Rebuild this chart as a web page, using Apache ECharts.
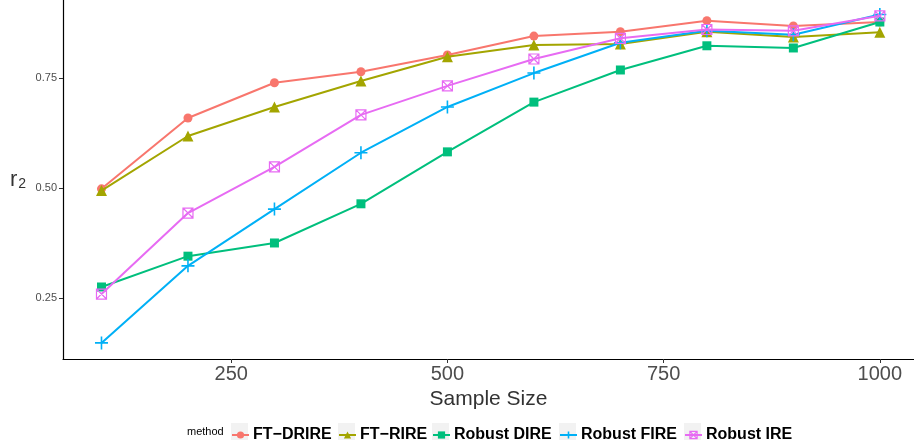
<!DOCTYPE html>
<html>
<head>
<meta charset="utf-8">
<script src="https://cdn.jsdelivr.net/npm/echarts@6/dist/echarts.min.js"></script>
<style>
html,body{margin:0;padding:0;background:#fff;}
#chart{width:914px;height:446px;}
</style>
</head>
<body>
<div id="chart"></div>
<script>
const sampleSizes = [100, 200, 300, 400, 500, 600, 700, 800, 900, 1000];
const ftDrire     = [0.498, 0.659, 0.739, 0.764, 0.802, 0.845, 0.855, 0.880, 0.868, 0.877];
const ftRire      = [0.494, 0.618, 0.684, 0.743, 0.798, 0.825, 0.827, 0.855, 0.843, 0.854];
const robustDire  = [0.275, 0.345, 0.375, 0.464, 0.582, 0.695, 0.768, 0.823, 0.818, 0.877];
const robustFire  = [0.148, 0.323, 0.452, 0.580, 0.684, 0.761, 0.830, 0.857, 0.848, 0.894];
const robustIre   = [0.259, 0.443, 0.548, 0.666, 0.732, 0.793, 0.840, 0.860, 0.857, 0.891];
const xTicks = [250, 500, 750, 1000];
const yTicks = [0.25, 0.50, 0.75];
const methodNames = ['FT\u2212DRIRE', 'FT\u2212RIRE', 'Robust DIRE', 'Robust FIRE', 'Robust IRE'];

const colors = ['#F8766D', '#A3A500', '#00BF7D', '#00B0F6', '#E76BF3'];
const allValues = [ftDrire, ftRire, robustDire, robustFire, robustIre];
const keyLeft = [231, 338, 432, 559, 684];

const plusPath = 'path://M5,0V10M0,5H10';
const boxXPath = 'path://M0,0H10V10H0ZM0,0L10,10M10,0L0,10';

const symbolDefs = [
  {symbol: 'circle', size: 9, item: {color: colors[0], borderWidth: 0}},
  {symbol: 'triangle', size: 11, item: {color: colors[1], borderWidth: 0}},
  {symbol: 'rect', size: 9, item: {color: colors[2], borderWidth: 0}},
  {symbol: plusPath, size: 13, item: {color: 'rgba(0,0,0,0)', borderColor: colors[3], borderWidth: 1.6}},
  {symbol: boxXPath, size: 10, item: {color: 'rgba(0,0,0,0)', borderColor: colors[4], borderWidth: 1.2}}
];

const series = methodNames.map((name, i) => ({
  name: name,
  type: 'line',
  data: sampleSizes.map((x, j) => [x, allValues[i][j]]),
  symbol: symbolDefs[i].symbol,
  symbolSize: symbolDefs[i].size,
  symbolKeepAspect: true,
  showAllSymbol: true,
  itemStyle: symbolDefs[i].item,
  lineStyle: {color: colors[i], width: 2},
  color: colors[i],
  emphasis: {disabled: true},
  animation: false,
  z: 2 + i
}));

const legends = methodNames.map((name, i) => ({
  data: [{name: name, itemStyle: symbolDefs[i].item}],
  left: keyLeft[i],
  top: 427,
  itemWidth: 17,
  itemHeight: 9,
  padding: 0,
  itemGap: 0,
  selectedMode: false,
  textStyle: {fontFamily: 'Liberation Sans', fontWeight: 'bold', fontSize: 16, color: '#000', padding: [0, 0, 0, -1]}
}));

const graphics = [
  {type: 'text', left: 187, top: 426, style: {text: 'method', font: '11px "Liberation Sans"', fill: '#000'}}
].concat(keyLeft.map(l => ({
  type: 'rect', left: l, top: 423, z: -1,
  shape: {width: 17, height: 17}, style: {fill: '#f2f2f2'}
})));

const chart = echarts.init(document.getElementById('chart'), null, {renderer: 'canvas'});
chart.setOption({
  animation: false,
  backgroundColor: '#fff',
  textStyle: {fontFamily: 'Liberation Sans'},
  grid: {left: 63, right: 0, top: 0, bottom: 87, containLabel: false},
  xAxis: {
    type: 'value', min: 55.5, max: 1039.5,
    name: 'Sample Size', nameLocation: 'middle', nameGap: 25,
    nameTextStyle: {fontSize: 21, color: '#333', fontFamily: 'Liberation Sans'},
    axisLine: {lineStyle: {color: '#000', width: 1.2}},
    axisTick: {show: true, length: 4, customValues: xTicks, lineStyle: {color: '#333'}},
    axisLabel: {customValues: xTicks, fontSize: 20, color: '#4d4d4d', margin: 5, fontFamily: 'Liberation Sans',
      formatter: v => String(v)},
    splitLine: {show: false}
  },
  yAxis: {
    type: 'value', min: 0.1114, max: 0.927,
    name: '{r|r}{s|2}', nameLocation: 'middle', nameGap: 37, nameRotate: 0,
    nameTextStyle: {
      color: '#333',
      rich: {
        r: {fontSize: 22, fontFamily: 'Liberation Sans', color: '#333'},
        s: {fontSize: 14, fontFamily: 'Liberation Sans', color: '#333', verticalAlign: 'bottom', padding: [10, 0, 0, 1]}
      }
    },
    axisLine: {show: true, lineStyle: {color: '#000', width: 1.2}},
    axisTick: {show: true, length: 4, customValues: yTicks, lineStyle: {color: '#333'}},
    axisLabel: {customValues: yTicks, fontSize: 11, color: '#4d4d4d', margin: 6, fontFamily: 'Liberation Sans',
      formatter: v => v.toFixed(2)},
    splitLine: {show: false}
  },
  legend: legends,
  graphic: graphics,
  series: series
});
</script>
</body>
</html>
